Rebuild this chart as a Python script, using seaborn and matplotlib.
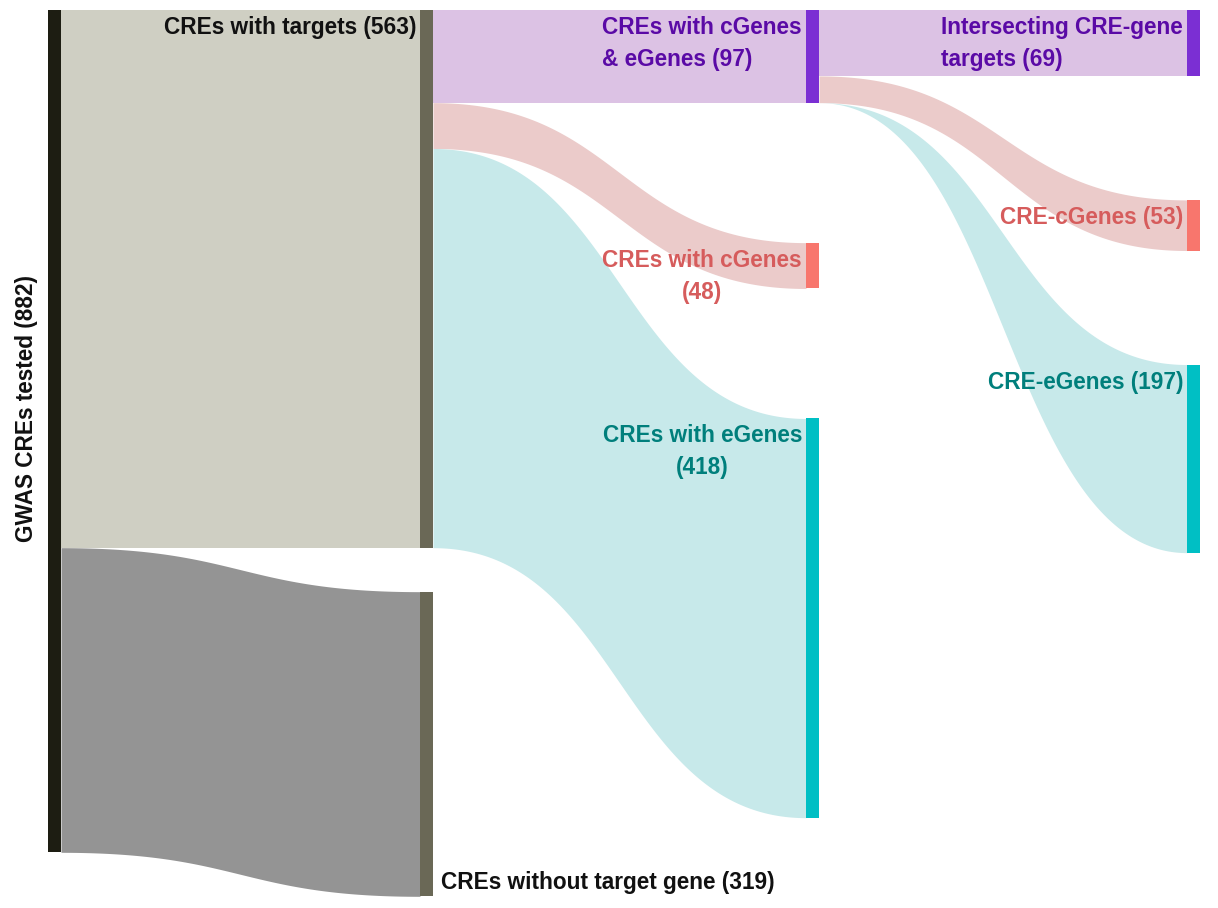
import matplotlib.pyplot as plt
import numpy as np
import seaborn as sns

sns.set_style('white')
plt.rcParams['font.family'] = ['Liberation Sans', 'DejaVu Sans']

# nodes (column, label, value)
node_names = ['GWAS CREs tested', 'CREs with targets', 'CREs without target gene',
              'CREs with cGenes & eGenes', 'CREs with cGenes', 'CREs with eGenes',
              'Intersecting CRE-gene targets', 'CRE-cGenes', 'CRE-eGenes']
node_values = [882, 563, 319, 97, 48, 418, 69, 53, 197]
node_cols = [0, 1, 1, 2, 2, 2, 3, 3, 3]
node_labels = ['GWAS CREs tested (882)', 'CREs with targets (563)',
               'CREs without target gene (319)', 'CREs with cGenes\n& eGenes (97)',
               'CREs with cGenes\n(48)', 'CREs with eGenes\n(418)',
               'Intersecting CRE-gene\ntargets (69)', 'CRE-cGenes (53)', 'CRE-eGenes (197)']

# links (source, target, value)
link_src = [0, 0, 1, 1, 1, 3, 3, 3]
link_tgt = [1, 2, 3, 4, 5, 6, 7, 8]
link_values = [563, 319, 97, 48, 418, 69, 53, 197]

node_colors = ['#1d1d12', '#6a6856', '#6a6856', '#7b2fd3', '#f8766d', '#00bfc4',
               '#7b2fd3', '#f8766d', '#00bfc4']
link_colors = ['#cfcfc3', '#949494', '#dcc2e4', '#ebcbca', '#c7e9ea',
               '#dcc2e4', '#ebcbca', '#c7e9ea']
text_colors = ['#111111', '#111111', '#111111', '#5a0aa6', '#d65c5c', '#007f7c',
               '#5a0aa6', '#d65c5c', '#007f7c']

# layout
scale = 0.955
col_x = [48, 420, 806, 1187]
node_w = 13
col_gaps = {0: [10], 1: [10, 44], 2: [10, 140, 130], 3: [10, 124, 114]}

fig = plt.figure(figsize=(12.18, 9.08), dpi=100)
ax = fig.add_axes([0, 0, 1, 1])
ax.set_xlim(0, 1218)
ax.set_ylim(908, 0)
ax.axis('off')

# node positions
tops, heights = [], []
col_cursor = {}
col_count = {}
for i, (c, v) in enumerate(zip(node_cols, node_values)):
    k = col_count.get(c, 0)
    y = col_cursor.get(c, 0) + col_gaps[c][k]
    tops.append(y)
    heights.append(v * scale)
    col_cursor[c] = y + v * scale
    col_count[c] = k + 1


def band(x0, x1, y0a, y0b, y1a, y1b, color):
    t = np.linspace(0, 1, 200)
    xm = (x0 + x1) / 2
    bx = (1 - t) ** 3 * x0 + 3 * (1 - t) ** 2 * t * xm + 3 * (1 - t) * t ** 2 * xm + t ** 3 * x1

    def by(ya, yb):
        return (1 - t) ** 3 * ya + 3 * (1 - t) ** 2 * t * ya + 3 * (1 - t) * t ** 2 * yb + t ** 3 * yb

    ax.fill_between(bx, by(y0a, y1a), by(y0b, y1b), color=color, lw=0, zorder=1)


src_off = {}
tgt_off = {}
for s, t, v, col in zip(link_src, link_tgt, link_values, link_colors):
    w = v * scale
    so = src_off.get(s, 0)
    bottom_s = tops[s] + heights[s]
    y0a = min(tops[s] + so, bottom_s)
    y0b = min(tops[s] + so + w, bottom_s)
    src_off[s] = so + w
    to = tgt_off.get(t, 0)
    y1a = tops[t] + to
    y1b = tops[t] + to + w
    tgt_off[t] = to + w
    band(col_x[node_cols[s]] + node_w, col_x[node_cols[t]], y0a, y0b, y1a, y1b, col)

for i in range(len(node_values)):
    x = col_x[node_cols[i]]
    ax.bar(x, heights[i], width=node_w, bottom=tops[i], align='edge',
           color=node_colors[i], lw=0, zorder=3)

fs = 16.3
for i, lab in enumerate(node_labels):
    x = col_x[node_cols[i]]
    kw = dict(fontsize=fs, fontweight='bold', color=text_colors[i], zorder=4)
    if i == 0:
        ax.text(27, 408, lab, rotation=90, ha='center', va='center', **kw)
    elif i == 2:
        ax.text(x + node_w + 8, tops[i] + heights[i] - 2, lab, ha='left', va='bottom', **kw)
    else:
        align = 'center' if i in (4, 5) else 'left'
        ax.text(x - 4, tops[i] + 6, lab, ha='right', va='top',
                multialignment=align, linespacing=1.5, **kw)

plt.savefig('out.png', dpi=100)
plt.close(fig)
